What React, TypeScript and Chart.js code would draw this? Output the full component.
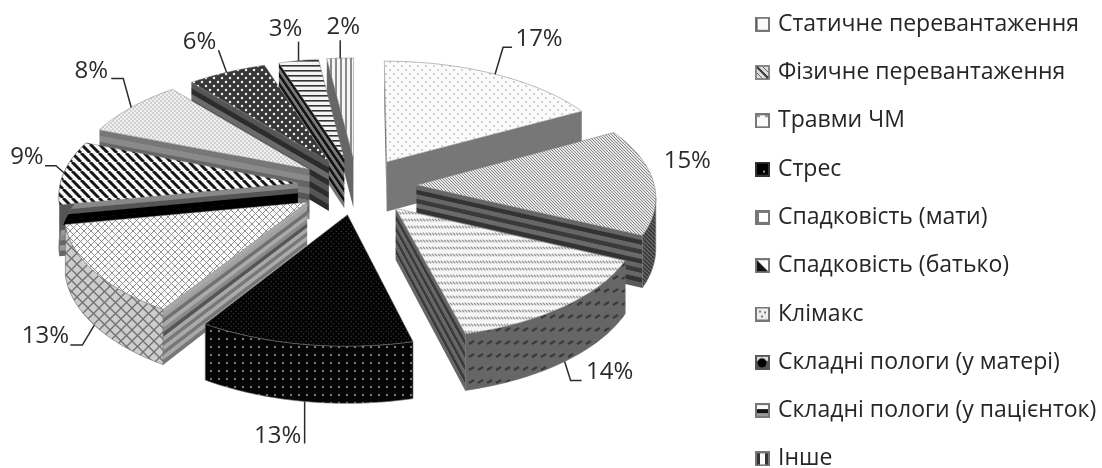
import React, { useEffect, useRef } from "react";
import { Chart, registerables } from "chart.js";

Chart.register(...registerables);

const categories = [
  "Статичне перевантаження",
  "Фізичне перевантаження",
  "Травми ЧМ",
  "Стрес",
  "Спадковість (мати)",
  "Спадковість (батько)",
  "Клімакс",
  "Складні пологи (у матері)",
  "Складні пологи (у пацієнток)",
  "Інше",
];
const shares = [17, 15, 14, 13, 13, 9, 8, 6, 3, 2];

const FONT = "'Open Sans', 'Noto Sans', sans-serif";

// Oblique view of the pie plane: u to the right, v away from the viewer.
const VIEW = { cx: 357, cy: 186, ax: 238, ay: 114, persp: 0.09, depth: 50, explode: 0.25 };

// Legend placement inside the canvas.
const LEGEND = { padding: 25.3, fontSize: 23, keyLeft: 758.5, firstRowTop: 12.7 };

type Pt = { x: number; y: number };
const project = (u: number, v: number): Pt => {
  const s = 1 / (1 + VIEW.persp * v);
  return { x: VIEW.cx + u * VIEW.ax * s, y: VIEW.cy - v * VIEW.ay * s };
};

function tile(w: number, h: number, paint: (c: CanvasRenderingContext2D) => void): CanvasPattern {
  const cv = document.createElement("canvas");
  cv.width = w;
  cv.height = h;
  const c = cv.getContext("2d")!;
  paint(c);
  return c.createPattern(cv, "repeat")!;
}

const flood = (c: CanvasRenderingContext2D, col: string, w: number, h: number) => {
  c.fillStyle = col;
  c.fillRect(0, 0, w, h);
};
const dot = (c: CanvasRenderingContext2D, x: number, y: number, r: number, col: string) => {
  c.fillStyle = col;
  c.beginPath();
  c.arc(x, y, r, 0, Math.PI * 2);
  c.fill();
};
const seg = (c: CanvasRenderingContext2D, x0: number, y0: number, x1: number, y1: number, col: string, lw: number) => {
  c.strokeStyle = col;
  c.lineWidth = lw;
  c.beginPath();
  c.moveTo(x0, y0);
  c.lineTo(x1, y1);
  c.stroke();
};

function diagonal(p: number, col: string, bg: string, lw: number, back = true, fwd = false) {
  return tile(p, p, (c) => {
    flood(c, bg, p, p);
    for (let k = -p; k <= p; k += p) {
      if (back) seg(c, k, 0, k + p, p, col, lw);
      if (fwd) seg(c, k + p, 0, k, p, col, lw);
    }
  });
}

function topPatterns(): CanvasPattern[] {
  return [
    tile(8, 8, (c) => {
      flood(c, "#fbfbfb", 8, 8);
      dot(c, 2, 2, 0.8, "#9a9a9a");
      dot(c, 6, 6, 0.8, "#9a9a9a");
    }),
    diagonal(3, "#888", "#e6e6e6", 1),
    tile(6, 7, (c) => {
      flood(c, "#f6f6f6", 6, 7);
      seg(c, 0, 3, 6, 3, "#c4c4c4", 1);
      seg(c, 0, 1.5, 2, 4.5, "#888", 1);
      seg(c, 3, 1.5, 5, 4.5, "#888", 1);
    }),
    tile(5, 5, (c) => {
      flood(c, "#040404", 5, 5);
      dot(c, 1.2, 1.2, 0.55, "#5c5c5c");
      dot(c, 3.7, 3.7, 0.55, "#5c5c5c");
    }),
    diagonal(7, "#8a8a8a", "#fcfcfc", 0.95, true, true),
    diagonal(9, "#151515", "#f8f8f8", 3),
    tile(4, 4, (c) => {
      flood(c, "#f0f0f0", 4, 4);
      dot(c, 1, 1, 0.8, "#a8a8a8");
      dot(c, 3, 3, 0.8, "#a8a8a8");
    }),
    tile(8, 8, (c) => {
      flood(c, "#383838", 8, 8);
      dot(c, 2, 2, 1.25, "#eee");
      dot(c, 6, 6, 1.25, "#eee");
    }),
    tile(5, 5, (c) => {
      flood(c, "#f4f4f4", 5, 5);
      c.fillStyle = "#333";
      c.fillRect(0, 0, 5, 1.6);
    }),
    tile(5, 5, (c) => {
      flood(c, "#f6f6f6", 5, 5);
      c.fillStyle = "#8a8a8a";
      c.fillRect(0, 0, 2, 5);
    }),
  ];
}

function rimPatterns(): (CanvasPattern | string)[] {
  return [
    "#777777",
    diagonal(4, "#333", "#666", 1.4),
    tile(9, 13, (c) => {
      flood(c, "#666", 9, 13);
      seg(c, 1, 6, 6, 3, "#3a3a3a", 2.2);
    }),
    tile(8, 8, (c) => {
      flood(c, "#040404", 8, 8);
      dot(c, 3, 3, 1.2, "#777");
    }),
    diagonal(11, "#707070", "#cdcdcd", 1.3, true, true),
    "#555555",
    "#888888",
    "#444444",
    "#333333",
    "#666666",
  ];
}

// Colour bands running along each flat cut face, from its top edge downwards.
const cutBands: string[][] = [
  ["#777"],
  ["#666", "#333", "#666", "#3a3a3a", "#6a6a6a", "#333", "#666", "#3a3a3a", "#666", "#333", "#5a5a5a"],
  ["#666", "#3a3a3a", "#666", "#3a3a3a", "#666", "#3a3a3a", "#666", "#3a3a3a", "#666"],
  ["#111"],
  ["#a8a8a8", "#a0a0a0", "#707070", "#aaa", "#8a8a8a", "#555", "#a8a8a8", "#777", "#aaa", "#777", "#a8a8a8", "#777"],
  ["#888", "#555", "#000", "#000", "#555", "#999", "#888", "#666", "#999", "#666"],
  ["#777", "#8a8a8a", "#666", "#7c7c7c", "#555", "#777", "#666", "#888"],
  ["#555", "#2c2c2c", "#6a6a6a", "#2c2c2c", "#555", "#2c2c2c", "#555", "#2c2c2c"],
  ["#111", "#777", "#111", "#777", "#111", "#777", "#111", "#777", "#111", "#777"],
  ["#666"],
];

// Small legend keys, one per category.
function swatch(i: number): HTMLCanvasElement {
  const cv = document.createElement("canvas");
  cv.width = 15;
  cv.height = 15;
  const c = cv.getContext("2d")!;
  flood(c, "#777", 15, 15);
  c.fillStyle = "#fbfbfb";
  c.fillRect(2, 2, 11, 11);
  c.fillStyle = "#111";
  if (i === 0) {
    seg(c, 2, 2, 2, 13, "#444", 1);
  } else if (i === 1) {
    flood(c, "#888", 15, 15);
    c.fillStyle = "#ddd";
    c.fillRect(2, 2, 11, 11);
    seg(c, 2, 2, 13, 13, "#333", 2);
    seg(c, 8, 2, 13, 7, "#666", 1);
    seg(c, 2, 8, 7, 13, "#666", 1);
  } else if (i === 2) {
    seg(c, 2, 3, 5, 3, "#444", 1);
    seg(c, 10, 3, 13, 3, "#444", 1);
  } else if (i === 3) {
    flood(c, "#333", 15, 15);
    c.fillStyle = "#000";
    c.fillRect(2, 2, 11, 11);
    dot(c, 9, 10, 1, "#ccc");
  } else if (i === 4) {
    flood(c, "#777", 15, 15);
    c.fillStyle = "#fff";
    c.fillRect(4, 3, 9, 9);
  } else if (i === 5) {
    c.beginPath();
    c.moveTo(2, 2);
    c.lineTo(13, 13);
    c.lineTo(2, 13);
    c.fill();
  } else if (i === 6) {
    c.fillStyle = "#eee";
    c.fillRect(2, 2, 11, 11);
    dot(c, 5, 5, 1, "#555");
    dot(c, 10, 6, 1, "#555");
    dot(c, 7, 10, 1, "#555");
  } else if (i === 7) {
    flood(c, "#555", 15, 15);
    c.fillStyle = "#ddd";
    c.fillRect(2, 2, 11, 4);
    dot(c, 7, 8, 4.5, "#000");
  } else if (i === 8) {
    c.fillRect(2, 6, 11, 4);
    c.fillStyle = "#999";
    c.fillRect(2, 10, 11, 3);
  } else if (i === 9) {
    c.fillStyle = "#333";
    c.fillRect(2, 2, 3, 11);
    c.fillRect(10, 2, 3, 11);
  }
  return cv;
}

// Leader elbow, leader end and label centre, relative to each slice's anchor point.
const leaders = [
  { elbow: [8, -27], end: [17, -27], text: [44, -35] },
  { elbow: null, end: null, text: [34, -20] },
  { elbow: [6, 19], end: [17, 19], text: [45, 11] },
  { elbow: [0, 42], end: [0, 42], text: [-27, 35] },
  { elbow: [-12, 20], end: [-24, 20], text: [-49, 11] },
  { elbow: [-8, -7], end: [-19, -7], text: [-37, -16] },
  { elbow: [-8, -29], end: [-20, -29], text: [-40, -36] },
  { elbow: [-8, -22], end: [-8, -22], text: [-27, -30] },
  { elbow: [0, -19], end: [0, -19], text: [-13, -32] },
  { elbow: [0, -18], end: [0, -18], text: [3, -31] },
];

function outline(startAngle: number, endAngle: number) {
  // Chart.js angles have 0 at three o'clock; turn them into bearings from twelve o'clock.
  const a0 = startAngle + Math.PI / 2;
  const a1 = endAngle + Math.PI / 2;
  const mid = (a0 + a1) / 2;
  const ou = VIEW.explode * Math.sin(mid);
  const ov = VIEW.explode * Math.cos(mid);
  const arc: Pt[] = [];
  const steps = 48;
  for (let k = 0; k <= steps; k++) {
    const a = a0 + ((a1 - a0) * k) / steps;
    arc.push(project(ou + Math.sin(a), ov + Math.cos(a)));
  }
  return {
    apex: project(ou, ov),
    arc,
    midPt: project(ou + Math.sin(mid), ov + Math.cos(mid)),
    nearSide: Math.cos(mid) + ov < 0,
    depthKey: ov + Math.cos(mid) * 0.35,
  };
}

const wallDrop = (p: Pt) => VIEW.depth * (1 / (1 + VIEW.persp * ((VIEW.cy - p.y) / VIEW.ay)));

function drawCut(ctx: CanvasRenderingContext2D, a: Pt, b: Pt, bands: string[]) {
  const n = bands.length;
  bands.forEach((col, k) => {
    const t0 = k / n;
    const t1 = (k + 1) / n;
    ctx.fillStyle = col;
    ctx.beginPath();
    ctx.moveTo(a.x, a.y + wallDrop(a) * t0);
    ctx.lineTo(b.x, b.y + wallDrop(b) * t0);
    ctx.lineTo(b.x, b.y + wallDrop(b) * t1 + 0.5);
    ctx.lineTo(a.x, a.y + wallDrop(a) * t1 + 0.5);
    ctx.closePath();
    ctx.fill();
  });
}

const solidPie = {
  id: "solidPie",
  beforeLayout(chart: any) {
    // The rows are taller than the canvas allows for one column, so the height limit is lifted.
    if (!chart.$legendOpen) {
      chart.$legendOpen = true;
      Object.defineProperty(chart.legend, "maxHeight", { get: () => 2000, set: () => {}, configurable: true });
    }
  },
  afterLayout(chart: any) {
    chart.legend.left = LEGEND.keyLeft - LEGEND.padding;
    chart.legend.top = LEGEND.firstRowTop - LEGEND.padding;
    chart.legend.bottom = 2000;
  },
  beforeDatasetDraw(chart: any) {
    const ctx: CanvasRenderingContext2D = chart.ctx;
    const meta = chart.getDatasetMeta(0);
    if (!chart.$rims) chart.$rims = rimPatterns();
    const rims: (CanvasPattern | string)[] = chart.$rims;
    const slices = meta.data.map((el: any, i: number) => ({
      i,
      fill: el.options.backgroundColor,
      ...outline(el.startAngle, el.endAngle),
    }));
    const order = [...slices].sort((p: any, q: any) => q.depthKey - p.depthKey);

    ctx.save();
    for (const s of order) {
      const { apex, arc, fill, i } = s;
      const first = arc[0];
      const last = arc[arc.length - 1];
      // Only faces whose top edge runs leftwards along the clockwise outline look at the viewer.
      if (first.x < apex.x) drawCut(ctx, apex, first, cutBands[i]);
      if (apex.x < last.x) drawCut(ctx, last, apex, cutBands[i]);

      const visible = arc.filter((_p: Pt, k: number) => k > 0 && arc[k].x < arc[k - 1].x);
      if (visible.length > 0) {
        const startIdx = arc.indexOf(visible[0]) - 1;
        const run = arc.slice(startIdx);
        ctx.fillStyle = rims[i];
        ctx.beginPath();
        run.forEach((p: Pt, k: number) => (k ? ctx.lineTo(p.x, p.y) : ctx.moveTo(p.x, p.y)));
        [...run].reverse().forEach((p: Pt) => ctx.lineTo(p.x, p.y + wallDrop(p)));
        ctx.closePath();
        ctx.fill();
        ctx.strokeStyle = "rgba(110,110,110,0.8)";
        ctx.lineWidth = 0.8;
        ctx.stroke();
      }

      ctx.fillStyle = fill;
      ctx.beginPath();
      ctx.moveTo(apex.x, apex.y);
      arc.forEach((p: Pt) => ctx.lineTo(p.x, p.y));
      ctx.closePath();
      ctx.fill();
      ctx.strokeStyle = "rgba(120,120,120,0.7)";
      ctx.lineWidth = 0.7;
      ctx.stroke();
    }

    // Percentage labels with their leader lines.
    ctx.font = `24px ${FONT}`;
    ctx.textAlign = "center";
    ctx.textBaseline = "middle";
    const total = shares.reduce((t, v) => t + v, 0);
    for (const s of slices) {
      const l = leaders[s.i];
      const a = { x: s.midPt.x, y: s.midPt.y + (s.nearSide ? wallDrop(s.midPt) : 0) };
      if (l.elbow && l.end) {
        ctx.strokeStyle = "#2b2b2b";
        ctx.lineWidth = 1.5;
        ctx.beginPath();
        ctx.moveTo(a.x, a.y);
        ctx.lineTo(a.x + l.elbow[0], a.y + l.elbow[1]);
        ctx.lineTo(a.x + l.end[0], a.y + l.end[1]);
        ctx.stroke();
      }
      ctx.fillStyle = "#2b2b2b";
      ctx.fillText(`${Math.round((shares[s.i] / total) * 100)}%`, a.x + l.text[0], a.y + l.text[1]);
    }
    ctx.restore();
    return false;
  },
};

export default function App() {
  const ref = useRef<HTMLCanvasElement>(null);
  useEffect(() => {
    document.body.style.margin = "0";
    const chart = new Chart(ref.current!, {
      type: "pie",
      data: {
        labels: categories,
        datasets: [{ data: shares, backgroundColor: topPatterns() as any, borderWidth: 0 }],
      },
      options: {
        responsive: false,
        animation: false,
        plugins: {
          tooltip: { enabled: false },
          legend: {
            position: "right",
            align: "start",
            labels: {
              usePointStyle: true,
              pointStyleWidth: 8,
              padding: LEGEND.padding,
              color: "#262626",
              font: { family: FONT, size: LEGEND.fontSize },
              generateLabels: () =>
                categories.map((text, i) => ({
                  text,
                  pointStyle: swatch(i),
                  fillStyle: "#fff",
                  strokeStyle: "#777",
                  lineWidth: 0,
                  hidden: false,
                  index: i,
                  fontColor: "#262626",
                })) as any,
            },
          },
        },
      } as any,
      plugins: [solidPie as any],
    });
    return () => chart.destroy();
  }, []);
  return (
    <div style={{ width: 1102, height: 468, position: "relative", overflow: "hidden", background: "#fff" }}>
      <canvas ref={ref} width={1102} height={468} style={{ display: "block" }} />
    </div>
  );
}
